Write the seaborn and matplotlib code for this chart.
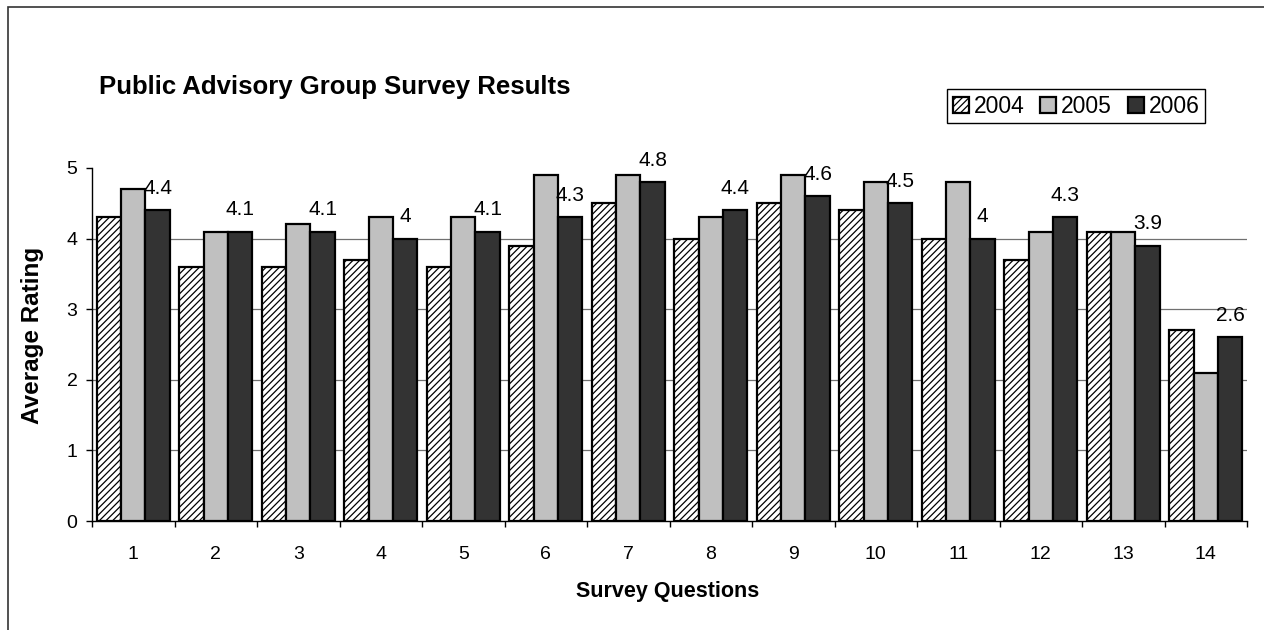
import numpy as np
import pandas as pd
import matplotlib
matplotlib.use("Agg")
import matplotlib.pyplot as plt
import seaborn as sns
from matplotlib.patches import Rectangle

questions = [str(i) for i in range(1, 15)]
years = ["2004", "2005", "2006"]
vals_2004 = [4.3, 3.6, 3.6, 3.7, 3.6, 3.9, 4.5, 4.0, 4.5, 4.4, 4.0, 3.7, 4.1, 2.7]
vals_2005 = [4.7, 4.1, 4.2, 4.3, 4.3, 4.9, 4.9, 4.3, 4.9, 4.8, 4.8, 4.1, 4.1, 2.1]
vals_2006 = [4.4, 4.1, 4.1, 4.0, 4.1, 4.3, 4.8, 4.4, 4.6, 4.5, 4.0, 4.3, 3.9, 2.6]
title = "Public Advisory Group Survey Results"
xlabel = "Survey Questions"
ylabel = "Average Rating"

sns.set_style("white")
plt.rcParams["font.family"] = ["Liberation Sans", "DejaVu Sans"]
plt.rcParams["hatch.linewidth"] = 0.9
plt.rcParams["text.color"] = "black"
plt.rcParams["axes.labelcolor"] = "black"
plt.rcParams["xtick.color"] = "black"
plt.rcParams["ytick.color"] = "black"

df = pd.DataFrame({
    "Question": questions * 3,
    "Year": [years[0]] * 14 + [years[1]] * 14 + [years[2]] * 14,
    "Rating": vals_2004 + vals_2005 + vals_2006,
})

W, H = 1264, 630
fig = plt.figure(figsize=(W / 100, H / 100), dpi=100)
ax = fig.add_axes([92 / W, 1 - 521 / H, (1247 - 92) / W, (521 - 168) / H])

palette = {"2004": "white", "2005": "#c0c0c0", "2006": "#333333"}
sns.barplot(data=df, x="Question", y="Rating", hue="Year", order=questions,
            hue_order=years, palette=palette, edgecolor="black", linewidth=1.6,
            width=0.89, gap=0, dodge=True, saturation=1, ax=ax, zorder=3)

for p in ax.containers[0].patches:
    p.set_hatch("/////")
    p.set_facecolor("white")

ax.set_xlim(-0.5, len(questions) - 0.5)
ax.set_ylim(0, 5)
ax.set_yticks(range(0, 6))
ax.set_xlabel("")
ax.set_ylabel("")

for s in ["top", "right"]:
    ax.spines[s].set_visible(False)
for s in ["left", "bottom"]:
    ax.spines[s].set_color("black")
    ax.spines[s].set_linewidth(1.0)
    ax.spines[s].set_zorder(4)

ax.set_xticks(range(len(questions)))
ax.set_xticklabels(questions)
ax.set_xticks(np.arange(len(questions) + 1) - 0.5, minor=True)
ax.tick_params(axis="x", which="major", length=0, pad=18, labelsize=14, colors="black")
ax.tick_params(axis="x", which="minor", length=4.5, width=1.0, direction="out", color="black", bottom=True)
ax.tick_params(axis="y", length=4.5, width=1.0, direction="out", pad=6, labelsize=14,
               colors="black", left=True)

ax.yaxis.grid(True, color="#707070", linewidth=0.9)
ax.xaxis.grid(False)
ax.set_axisbelow(True)
for line, t in zip(ax.get_ygridlines(), ax.get_yticks()):
    if t <= 0 or t >= 5:
        line.set_visible(False)

ax.bar_label(ax.containers[2], labels=[f"{v:g}" for v in vals_2006], padding=9,
             fontsize=15, color="black")

fig.text(99 / W, 1 - 87 / H, title, fontsize=18.5, fontweight="bold", ha="left", va="center")
fig.text(33 / W, 1 - 335 / H, ylabel, fontsize=17.5, fontweight="bold", rotation=90,
         ha="center", va="center")
fig.text(668 / W, 1 - 591 / H, xlabel, fontsize=15.5, fontweight="bold", ha="center", va="center")

handles = [ax.containers[i].patches[0] for i in range(3)]
leg = ax.legend(handles, years, loc="upper right", bbox_to_anchor=(1205 / W, 1 - 89 / H),
                bbox_transform=fig.transFigure, ncol=3, frameon=True, fancybox=False,
                edgecolor="black", framealpha=1, fontsize=16.5, handlelength=0.7,
                handleheight=0.7, handletextpad=0.2, columnspacing=0.7, borderpad=0.25,
                borderaxespad=0)
leg.get_frame().set_linewidth(1.0)

fig.patches.append(Rectangle((8 / W, -0.2), 1.5, 1.2 - 7 / H, transform=fig.transFigure,
                             fill=False, edgecolor="#333333", linewidth=1.2))

fig.savefig("out.png", dpi=100)
